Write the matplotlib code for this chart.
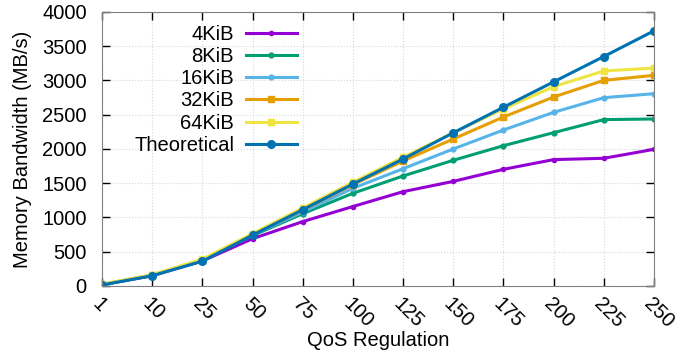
import numpy as np
import matplotlib.pyplot as plt

plt.rcParams['font.family'] = ['Liberation Sans', 'DejaVu Sans']

# --- data ---
qos_labels = ['1', '10', '25', '50', '75', '100', '125', '150', '175', '200', '225', '250']
bw_4k = [18, 150, 365, 690, 940, 1160, 1377, 1527, 1703, 1845, 1864, 1995]
bw_8k = [20, 155, 375, 735, 1055, 1353, 1606, 1835, 2048, 2238, 2429, 2438]
bw_16k = [20, 158, 378, 745, 1080, 1426, 1712, 2000, 2277, 2535, 2749, 2807]
bw_32k = [22, 160, 382, 755, 1110, 1480, 1825, 2146, 2467, 2759, 3002, 3075]
bw_64k = [25, 165, 390, 765, 1140, 1515, 1880, 2235, 2585, 2910, 3139, 3182]
bw_theo = [15, 150, 362, 742, 1114, 1489, 1854, 2236, 2610, 2980, 3350, 3725]

series = [
    ('4KiB', bw_4k, '#9400d3', 'o', 3),
    ('8KiB', bw_8k, '#009e73', 'o', 3.5),
    ('16KiB', bw_16k, '#56b4e9', 'o', 3.5),
    ('32KiB', bw_32k, '#e69f00', 's', 5),
    ('64KiB', bw_64k, '#f0e442', 's', 5),
    ('Theoretical', bw_theo, '#0072b2', 'o', 5.5),
]

FS = 14.5

fig = plt.figure(figsize=(6.78, 3.6), dpi=100)
ax = fig.add_axes([0.1504, 0.2056, 0.8142, 0.7611])

x = np.arange(len(qos_labels))
for name, vals, col, mk, ms in series:
    ax.plot(x, vals, color=col, marker=mk, markersize=ms, linewidth=2.2, label=name)

ax.set_xlim(0, len(qos_labels) - 1)
ax.set_ylim(0, 4000)
ax.set_yticks(np.arange(0, 4001, 500))
ax.set_xticks(x)
ax.set_xticklabels(qos_labels, rotation=-45, ha='left', va='top', rotation_mode='anchor')

ax.tick_params(direction='in', length=6, width=1, top=True, right=True, labelsize=FS, colors='black')
ax.tick_params(axis='x', pad=6)
ax.tick_params(axis='y', pad=11)
for s in ax.spines.values():
    s.set_color('#808080')
ax.grid(True, color='#d8d8d8', linestyle=':', linewidth=0.8)

ax.set_xlabel('QoS Regulation', fontsize=FS, labelpad=0)
ax.set_ylabel('Memory Bandwidth (MB/s)', fontsize=FS, labelpad=7)

ax.legend(loc='upper left', bbox_to_anchor=(0.04, 0.99), frameon=False, markerfirst=False,
          fontsize=FS, handlelength=2.5, labelspacing=0.16, borderaxespad=0.1,
          handletextpad=0.6)

fig.savefig('out.png', dpi=100)
